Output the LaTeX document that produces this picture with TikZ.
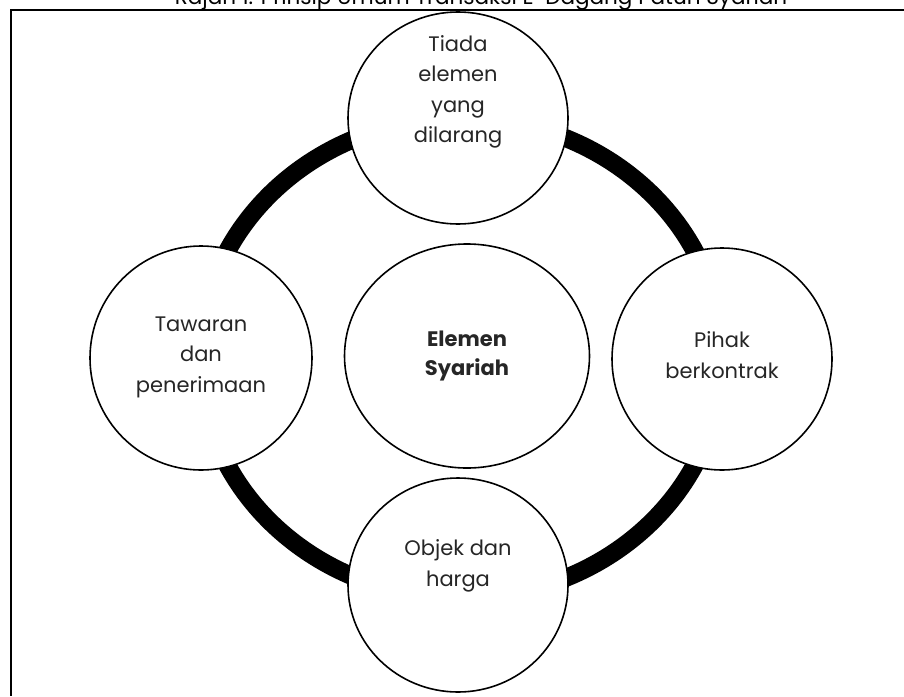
\documentclass[tikz,border=0pt]{standalone}
\usepackage{fontspec}
\setmainfont{Poppins}
\usetikzlibrary{shapes.geometric}
\begin{document}
\begin{tikzpicture}[x=1pt,y=-1pt,
  bubble/.style={ellipse,draw=black,line width=1.6pt,fill=white,inner sep=0pt},
  lbl/.style={align=center,font=\fontsize{21}{30.5}\selectfont,text=black!85}]
\useasboundingbox (0,0) rectangle (904,696);
\clip (0,0) rectangle (904,696);
\fill[white] (0,0) rectangle (904,696);
% title (cut off at top, as in the reference)
\node[anchor=base,font=\fontsize{21.5}{25}\selectfont] (title) at (481,4.5) {Rajah 1: Prinsip Umum Transaksi E-Dagang Patuh Syariah};
% frame
\coordinate (fa) at (904,10);
\coordinate (fb) at (11,10);
\coordinate (fc) at (11,696);
\draw[line width=2.4pt] (fa) -- (fb) -- (fc);
% ring
\coordinate (ringc) at (461,358);
\draw[line width=18pt] (ringc) ellipse (261 and 240);
% circles
\node[bubble,minimum width=220pt,minimum height=212pt] (top) at (458,118) {};
\node[bubble,minimum width=222pt,minimum height=224pt] (left) at (201,358) {};
\node[bubble,minimum width=245pt,minimum height=224pt] (center) at (467,356) {};
\node[bubble,minimum width=220pt,minimum height=222pt] (right) at (722,359) {};
\node[bubble,minimum width=220pt,minimum height=214pt] (bottom) at (458,585) {};
% texts
\node[lbl] (ttop) at (458,92) {Tiada\\elemen\\yang\\dilarang};
\node[lbl] (tleft) at (201,357) {Tawaran\\dan\\penerimaan};
\node[lbl,font=\fontsize{21}{29}\selectfont\bfseries] (tcenter) at (467,356) {Elemen\\Syariah};
\node[lbl] (tright) at (722,355) {Pihak\\berkontrak};
\node[lbl] (tbottom) at (458,566) {Objek dan\\harga};
\end{tikzpicture}
\end{document}
